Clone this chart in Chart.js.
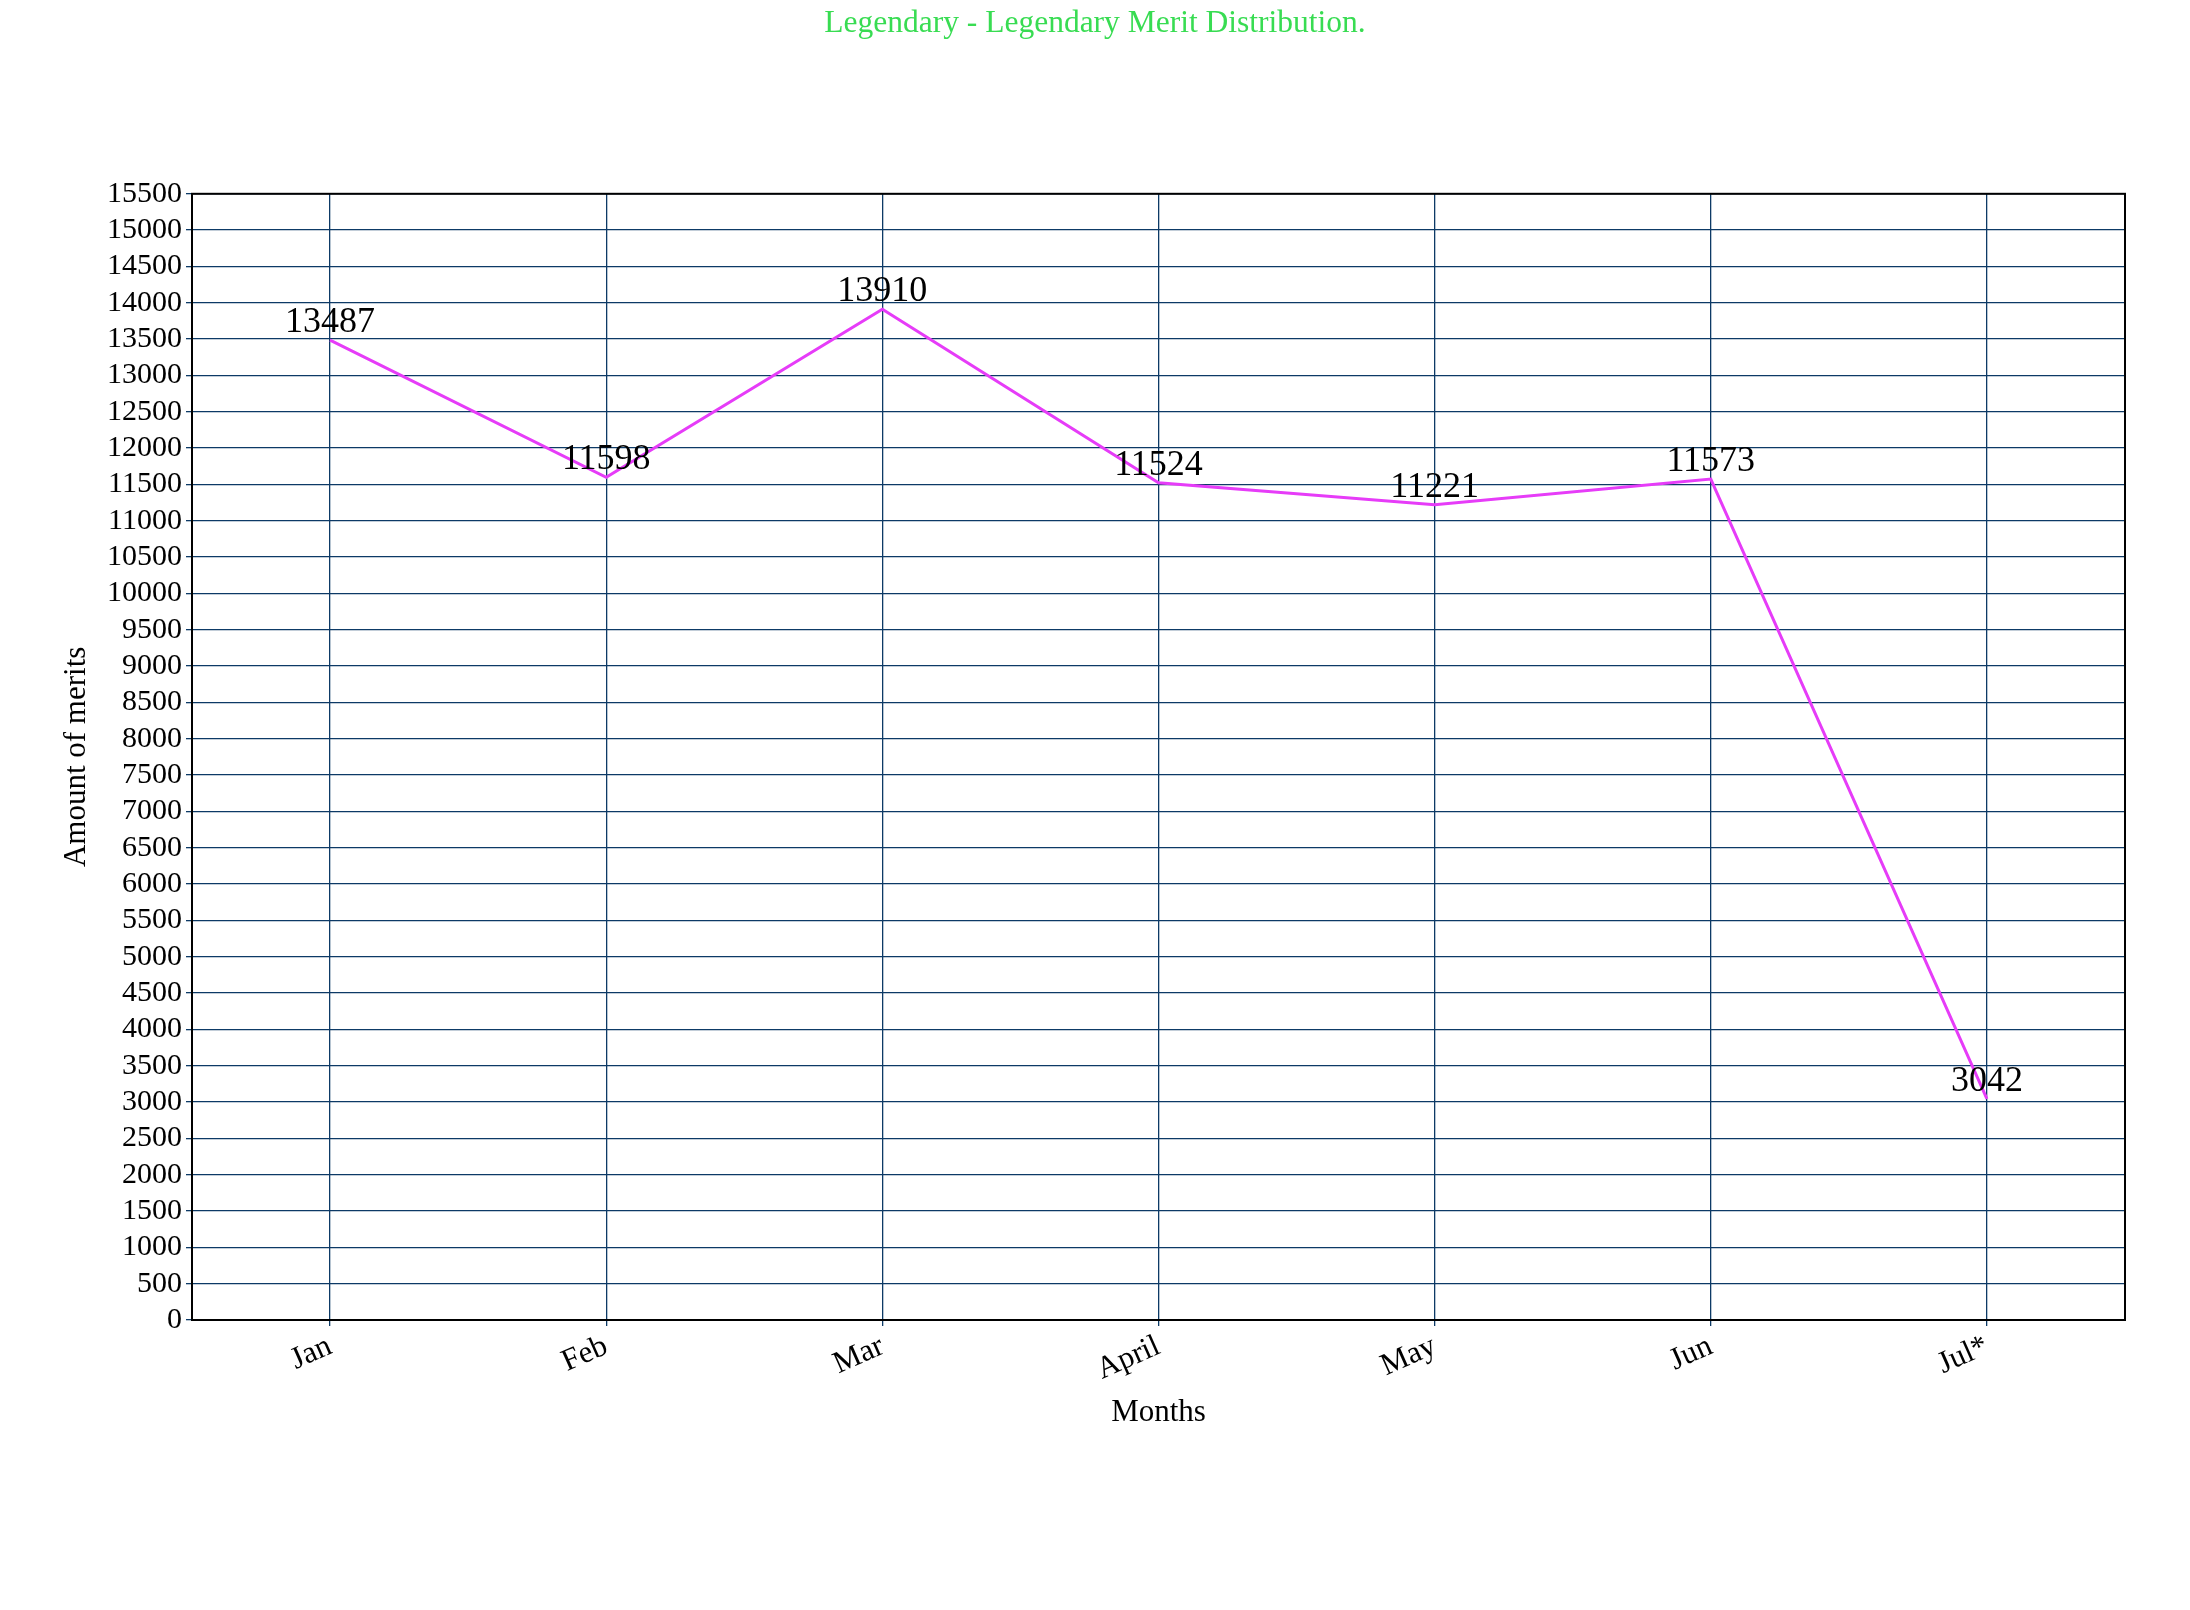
<!DOCTYPE html>
<html>
<head>
<meta charset="utf-8">
<title>Legendary Merit Distribution</title>
<script src="https://cdn.jsdelivr.net/npm/chart.js@4/dist/chart.umd.min.js"></script>
<style>
  html, body { margin: 0; padding: 0; background: #ffffff; }
  #wrap { width: 2190px; height: 1610px; }
</style>
</head>
<body>
<div id="wrap"><canvas id="graficaMeritos" width="2190" height="1610"></canvas></div>
<script>
const meses = ["Jan", "Feb", "Mar", "April", "May", "Jun", "Jul*"];
const meritos = [13487, 11598, 13910, 11524, 11221, 11573, 3042];
const ejeYMin = 0;
const ejeYMax = 15500;
const ejeYPaso = 500;

const fuente = "'Liberation Serif', 'Times New Roman', serif";
const colorRejilla = '#0d3a66';

// numeros encima de cada punto
const etiquetasPuntos = {
    id: 'etiquetasPuntos',
    afterDatasetsDraw(chart) {
        const ctx = chart.ctx;
        const meta = chart.getDatasetMeta(0);
        ctx.save();
        ctx.font = "36px " + fuente;
        ctx.fillStyle = '#000000';
        ctx.textAlign = 'center';
        ctx.textBaseline = 'alphabetic';
        meta.data.forEach((p, i) => {
            ctx.fillText(String(chart.data.datasets[0].data[i]), p.x, p.y - 8);
        });
        ctx.restore();
    }
};

// marco negro alrededor del area
const marco = {
    id: 'marco',
    afterDraw(chart) {
        const a = chart.chartArea;
        const ctx = chart.ctx;
        ctx.save();
        ctx.strokeStyle = '#000000';
        ctx.lineWidth = 2;
        ctx.strokeRect(a.left, a.top, a.right - a.left, a.bottom - a.top);
        ctx.restore();
    }
};

const ctx = document.getElementById('graficaMeritos').getContext('2d');
const grafica = new Chart(ctx, {
    type: 'line',
    data: {
        labels: meses,
        datasets: [{
            label: "Legendary",
            data: meritos,
            borderColor: '#e63cf8',
            borderWidth: 3,
            pointRadius: 0,
            fill: false,
            tension: 0
        }]
    },
    options: {
        responsive: false,
        animation: false,
        layout: { padding: { left: 0, right: 0, top: 0, bottom: 150 } },
        plugins: {
            legend: { display: false },
            tooltip: { enabled: false },
            title: {
                display: true,
                text: "Legendary - Legendary Merit Distribution.",
                color: '#38dc52',
                font: { family: fuente, size: 31.5, weight: 'normal' },
                padding: { top: 5, bottom: 151 }
            }
        },
        scales: {
            x: {
                offset: true,
                grid: { offset: false, color: colorRejilla, lineWidth: 1.3, tickLength: 6, tickColor: colorRejilla },
                border: { color: '#000000', width: 2 },
                ticks: {
                    color: '#000000',
                    font: { family: fuente, size: 31 },
                    minRotation: 24,
                    maxRotation: 24,
                    padding: 2
                },
                title: {
                    display: true,
                    text: "Months",
                    color: '#000000',
                    font: { family: fuente, size: 31 },
                    padding: { top: 0, bottom: 29 }
                },
                afterFit(scale) { scale.height = 140; }
            },
            y: {
                min: ejeYMin,
                max: ejeYMax,
                grid: { color: colorRejilla, lineWidth: 1.3, tickLength: 6, tickColor: colorRejilla },
                border: { color: '#000000', width: 2 },
                ticks: {
                    stepSize: ejeYPaso,
                    autoSkip: false,
                    color: '#000000',
                    font: { family: fuente, size: 30 },
                    padding: 4,
                    callback: (v) => String(v)
                },
                title: {
                    display: true,
                    text: "Amount of merits",
                    color: '#000000',
                    font: { family: fuente, size: 31 },
                    padding: { top: 58, bottom: 0 }
                },
                afterFit(scale) { scale.width = 192; }
            },
            // eje vacio a la derecha, solo deja el margen
            yDerecha: {
                position: 'right',
                min: ejeYMin,
                max: ejeYMax,
                grid: { display: false },
                border: { display: false },
                ticks: { display: false },
                afterFit(scale) { scale.width = 65; }
            }
        }
    },
    plugins: [etiquetasPuntos, marco]
});
</script>
</body>
</html>
